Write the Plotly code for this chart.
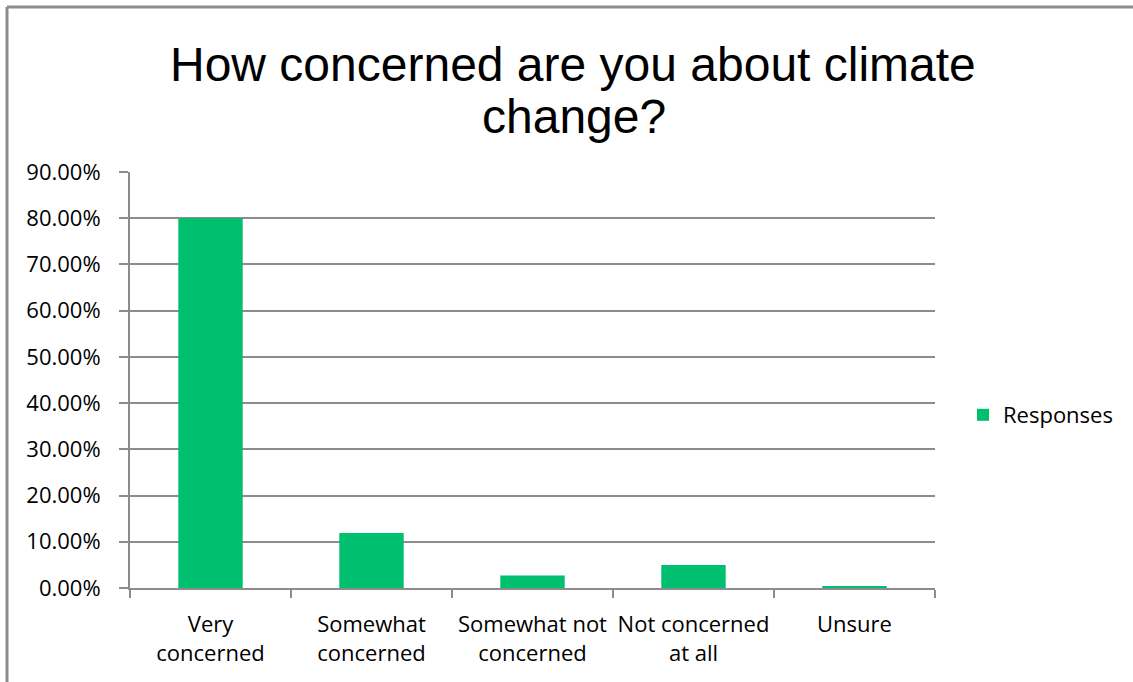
import plotly.graph_objects as go

categories = ["Very<br>concerned", "Somewhat<br>concerned", "Somewhat not<br>concerned",
              "Not concerned<br>at all", "Unsure"]
responses = [0.800, 0.119, 0.027, 0.050, 0.004]
series_name = "Responses"
title_line1 = "How concerned are you about climate"
title_line2 = "change?"

W, H = 1133, 682
L, R, T, B = 130, 935, 172, 588  # plot area in pixels

def px_x(px):
    return (px - L) / (R - L)

def px_y(py):
    return (B - py) / (B - T)

grid = "#8c8c8c"
tick_font = dict(family="Open Sans", size=22, color="#000000")

fig = go.Figure()
fig.add_trace(go.Bar(x=categories, y=responses, name=series_name,
                     marker=dict(color="#00BF6F", line=dict(width=0)),
                     showlegend=True))

fig.update_layout(
    width=W, height=H,
    margin=dict(l=L, r=W - R, t=T, b=H - B, pad=0, autoexpand=False),
    paper_bgcolor="white", plot_bgcolor="white",
    bargap=0.6,
    showlegend=True,
    legend=dict(x=px_x(963), y=px_y(415), xanchor="left", yanchor="middle",
                font=dict(family="Open Sans", size=22, color="#000000"),
                bgcolor="rgba(0,0,0,0)", itemwidth=30),
    xaxis=dict(type="category", showline=True, linecolor=grid, linewidth=2,
               ticks="outside", ticklen=8, tickwidth=2, tickcolor=grid,
               tickson="boundaries", showgrid=False, tickfont=tick_font,
               tickangle=0, ticklabelstandoff=16, automargin=False),
    yaxis=dict(range=[0, 0.9], dtick=0.1, tickformat=".2%",
               showline=True, linecolor=grid, linewidth=2,
               ticks="outside", ticklen=9, tickwidth=2, tickcolor=grid,
               showgrid=True, gridcolor=grid, gridwidth=2,
               zeroline=False, tickfont=tick_font, ticklabelstandoff=14,
               automargin=False),
    font=dict(family="Open Sans", color="#000000"),
)

fig.add_annotation(text=title_line1, xref="paper", yref="paper",
                   x=px_x(573), y=px_y(65), xanchor="center", yanchor="middle",
                   showarrow=False,
                   font=dict(family="Liberation Sans, Arial", size=48, color="#000000"))
fig.add_annotation(text=title_line2, xref="paper", yref="paper",
                   x=px_x(574), y=px_y(117), xanchor="center", yanchor="middle",
                   showarrow=False,
                   font=dict(family="Liberation Sans, Arial", size=48, color="#000000"))

# outer chart border (top and left edges visible)
fig.add_shape(type="line", xref="paper", yref="paper",
              x0=px_x(7), y0=px_y(7), x1=px_x(1133), y1=px_y(7),
              line=dict(color="#8c8c8c", width=3))
fig.add_shape(type="line", xref="paper", yref="paper",
              x0=px_x(7), y0=px_y(7), x1=px_x(7), y1=px_y(682),
              line=dict(color="#8c8c8c", width=3))

fig.write_html("out.html")
